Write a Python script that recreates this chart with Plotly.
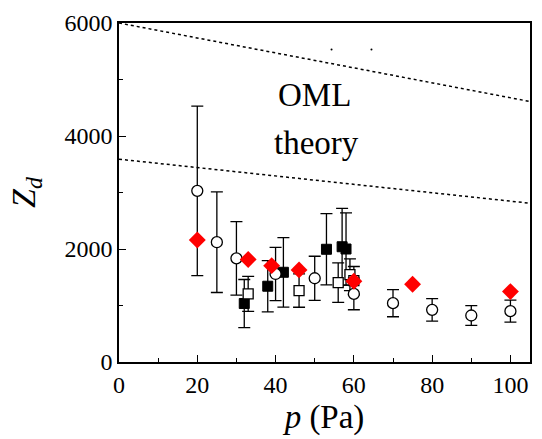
import plotly.graph_objects as go

# Open circles
oc_x = [20, 25, 30, 40, 50, 60, 70, 80, 90, 100]
oc_y = [3030, 2120, 1835, 1558, 1482, 1205, 1041, 923, 823, 900]
oc_err = [1500, 890, 650, 470, 390, 280, 240, 200, 175, 195]

# Black squares
bs_x = [32, 38, 42, 53, 57, 58]
bs_y = [1035, 1341, 1588, 1995, 2040, 2000]
bs_err = [425, 455, 615, 630, 680, 640]

# Open squares
os_x = [33, 46, 56, 59, 60]
os_y = [1205, 1264, 1405, 1545, 1440]
os_err = [310, 295, 350, 280, 250]

# Red diamonds (no error bars)
rd_x = [20, 33, 39, 46, 60, 75, 100]
rd_y = [2160, 1815, 1705, 1630, 1430, 1376, 1246]

# OML theory lines (dotted)
oml_x = [0, 105]
oml_upper = [6000, 4610]
oml_lower = [3590, 2810]

# stray dots in the original
dot_x = [54.3, 64.5]
dot_y = [5530, 5530]

font_family = "Liberation Serif"

fig = go.Figure()

fig.add_trace(go.Scatter(x=oml_x, y=oml_upper, mode="lines",
                         line=dict(color="black", width=1.5, dash="dot"), showlegend=False))
fig.add_trace(go.Scatter(x=oml_x, y=oml_lower, mode="lines",
                         line=dict(color="black", width=1.5, dash="dot"), showlegend=False))
fig.add_trace(go.Scatter(x=dot_x, y=dot_y, mode="markers",
                         marker=dict(color="black", size=2), showlegend=False))

err_style = dict(type="data", visible=True, color="black", thickness=1.3, width=6)

fig.add_trace(go.Scatter(x=bs_x, y=bs_y, mode="markers",
                         error_y=dict(array=bs_err, **err_style),
                         marker=dict(symbol="square", size=10, color="black",
                                     line=dict(color="black", width=1)),
                         showlegend=False))
fig.add_trace(go.Scatter(x=os_x, y=os_y, mode="markers",
                         error_y=dict(array=os_err, **err_style),
                         marker=dict(symbol="square", size=10, color="white",
                                     line=dict(color="black", width=1.3)),
                         showlegend=False))
fig.add_trace(go.Scatter(x=oc_x, y=oc_y, mode="markers",
                         error_y=dict(array=oc_err, **err_style),
                         marker=dict(symbol="circle", size=11, color="white",
                                     line=dict(color="black", width=1.3)),
                         showlegend=False))
fig.add_trace(go.Scatter(x=rd_x, y=rd_y, mode="markers",
                         marker=dict(symbol="diamond", size=13, color="#ff0000",
                                     line=dict(color="#ff0000", width=0)),
                         showlegend=False))

fig.add_annotation(x=50, y=4720, xref="x", yref="y", text="OML", showarrow=False,
                   font=dict(family=font_family, size=33, color="black"))
fig.add_annotation(x=50.5, y=3880, xref="x", yref="y", text="theory", showarrow=False,
                   font=dict(family=font_family, size=33, color="black"))

axis_common = dict(showline=True, linecolor="black", linewidth=1.5, mirror=True,
                   ticks="inside", tickcolor="black", tickwidth=1.3, ticklen=7,
                   showgrid=False, zeroline=False,
                   tickfont=dict(family=font_family, size=24, color="black"))

fig.update_xaxes(range=[0, 105], tickmode="array", tickvals=[0, 20, 40, 60, 80, 100],
                 minor=dict(tickvals=[10, 30, 50, 70, 90], ticks="inside", ticklen=4,
                            tickcolor="black", tickwidth=1.3),
                 title=dict(text="<i>p</i> (Pa)", standoff=8,
                            font=dict(family=font_family, size=33, color="black")),
                 **axis_common)
fig.update_yaxes(range=[0, 6000], tickmode="array", tickvals=[0, 2000, 4000, 6000],
                 minor=dict(tickvals=[1000, 3000, 5000], ticks="inside", ticklen=4,
                            tickcolor="black", tickwidth=1.3),
                 title=dict(text="<i>Z</i><sub><i>d</i></sub>", standoff=19,
                            font=dict(family=font_family, size=34, color="black")),
                 **axis_common)

fig.update_layout(width=542, height=439,
                  margin=dict(l=119, r=10, t=23, b=76),
                  font=dict(family=font_family, color="black"),
                  plot_bgcolor="white", paper_bgcolor="white")

fig.write_html("out.html", config={"displayModeBar": False},
               post_script="document.body.style.margin='0';")
